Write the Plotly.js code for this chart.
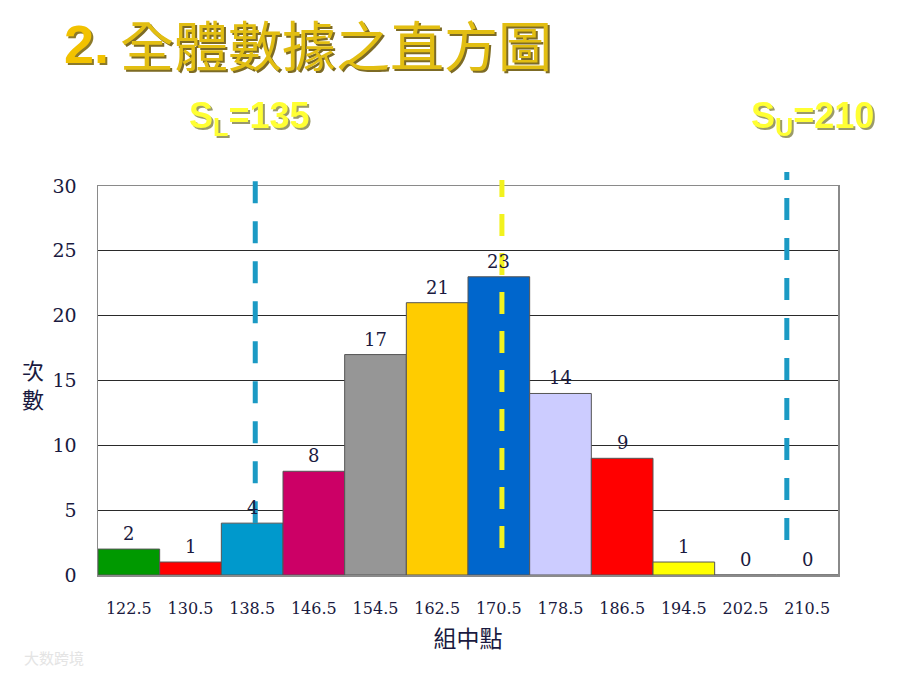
<!DOCTYPE html>
<html>
<head>
<meta charset="utf-8">
<script src="https://cdn.plot.ly/plotly-3.0.1.min.js"></script>
<style>html,body{margin:0;padding:0;background:#fff;}#chart{width:900px;height:675px;}</style>
</head>
<body>
<div id="chart"></div>
<script>
// ---- data ----
const categories = ['122.5','130.5','138.5','146.5','154.5','162.5','170.5','178.5','186.5','194.5','202.5','210.5'];
const counts = [2, 1, 4, 8, 17, 21, 23, 14, 9, 1, 0, 0];
const barColors = ['#009900','#FF0000','#0099CC','#CC0066','#969696','#FFCC00','#0066CC','#CCCCFF','#FF0000','#FFFF00','#FFFFFF','#FFFFFF'];
const titleNumber = '2.';
const titleText = '全體數據之直方圖';
const xTitle = '組中點';
const yTitleChars = ['次', '數'];
const lowerLimitLabel = 'S<sub>L</sub>=135';
const upperLimitLabel = 'S<sub>U</sub>=210';
// reference lines, in category-index units
const lowerLimitIndex = 2.05;
const meanIndex = 6.05;
const upperLimitIndex = 10.67;

// ---- layout helpers (pixel -> paper) ----
const L = 98, R = 838, T = 186, B = 575;
const px = x => (x - L) / (R - L);
const py = y => (B - y) / (B - T);
const navy = '#1a1a40';
const serif = 'DejaVu Serif, Liberation Serif, serif';
const cjk = 'Noto Sans CJK TC, Noto Sans CJK SC, sans-serif';

const bars = {
  type: 'bar',
  x: categories,
  y: counts,
  marker: {color: barColors, line: {color: '#555555', width: 1}},
  hoverinfo: 'x+y',
  showlegend: false
};

const annotations = [];
const shadowed = [];
// value labels (x given as category index)
categories.forEach((c, i) => {
  annotations.push({
    x: i, y: counts[i], xref: 'x', yref: 'y',
    text: String(counts[i]), showarrow: false,
    yanchor: 'bottom', yshift: 3,
    font: {family: serif, size: 18, color: navy}
  });
});
function shadowText(text, x, y, size, family, color, shadow, anchor) {
  shadowed.push({index: annotations.length, shadow: shadow});
  annotations.push({xref: 'paper', yref: 'paper', x: px(x), y: py(y),
    text: text, showarrow: false, xanchor: anchor, yanchor: 'middle',
    font: {family: family, size: size, color: color}});
}
shadowText('<b>' + titleNumber + '</b>', 62, 44, 54, 'Liberation Sans, Arial, sans-serif', '#F2C200', '#8C7A2A', 'left');
shadowText(titleText, 118, 44, 54, cjk, '#E2BE12', '#7D6B25', 'left');
shadowText('<b>' + lowerLimitLabel + '</b>', 249, 118, 36, 'Liberation Sans, Arial, sans-serif', '#FFFF33', '#9A9A6A', 'center');
shadowText('<b>' + upperLimitLabel + '</b>', 812, 118, 36, 'Liberation Sans, Arial, sans-serif', '#FFFF33', '#9A9A6A', 'center');
// y title (stacked characters)
yTitleChars.forEach((ch, k) => {
  annotations.push({xref: 'paper', yref: 'paper', x: px(33), y: py(369 + k * 29), text: ch, showarrow: false,
    xanchor: 'center', yanchor: 'middle', font: {family: cjk, size: 22, color: navy}});
});
// watermark
annotations.push({xref: 'paper', yref: 'paper', x: px(22), y: py(657), text: '大数跨境', showarrow: false,
  xanchor: 'left', yanchor: 'middle', font: {family: cjk, size: 15, color: '#e4e4e4'}});

const shapes = [
  {type: 'line', xref: 'x', yref: 'paper', x0: lowerLimitIndex, x1: lowerLimitIndex, y0: 4 / 30, y1: py(172),
    line: {color: '#1B9AC4', width: 5, dash: '22px,18px'}, layer: 'above'},
  {type: 'line', xref: 'x', yref: 'paper', x0: meanIndex, x1: meanIndex, y0: py(548), y1: py(180),
    line: {color: '#F2F21E', width: 5, dash: '22px,17px'}, layer: 'above'},
  {type: 'line', xref: 'x', yref: 'paper', x0: upperLimitIndex, x1: upperLimitIndex, y0: py(540), y1: py(172),
    line: {color: '#1B9AC4', width: 5, dash: '22px,18px'}, layer: 'above'}
];

const layout = {
  width: 900, height: 675,
  margin: {l: L, r: 900 - R, t: T, b: 675 - B, pad: 0},
  paper_bgcolor: '#ffffff', plot_bgcolor: '#ffffff',
  bargap: 0,
  showlegend: false,
  xaxis: {
    type: 'category', range: [-0.5, 11.5], fixedrange: true,
    showgrid: false, zeroline: false,
    showline: true, linecolor: '#8a8a8a', linewidth: 1.5, mirror: true,
    ticks: '', ticklabelstandoff: 18,
    tickfont: {family: serif, size: 16, color: navy},
    title: {text: xTitle, standoff: 14, font: {family: cjk, size: 23, color: navy}}
  },
  yaxis: {
    range: [0, 30], dtick: 5, fixedrange: true,
    showgrid: true, gridcolor: '#2a2a2a', gridwidth: 1,
    zeroline: false,
    showline: true, linecolor: '#8a8a8a', linewidth: 1.5, mirror: true,
    ticks: '', ticklabelstandoff: 16,
    tickfont: {family: serif, size: 19, color: navy}
  },
  annotations: annotations,
  shapes: shapes
};

Plotly.newPlot('chart', [bars], layout, {displayModeBar: false, staticPlot: true}).then(gd => {
  shadowed.forEach(s => {
    const g = gd.querySelector('.annotation[data-index="' + s.index + '"]');
    if (g) g.style.filter = 'drop-shadow(2.5px 2.5px 0px ' + s.shadow + ')';
  });
});
</script>
</body>
</html>
